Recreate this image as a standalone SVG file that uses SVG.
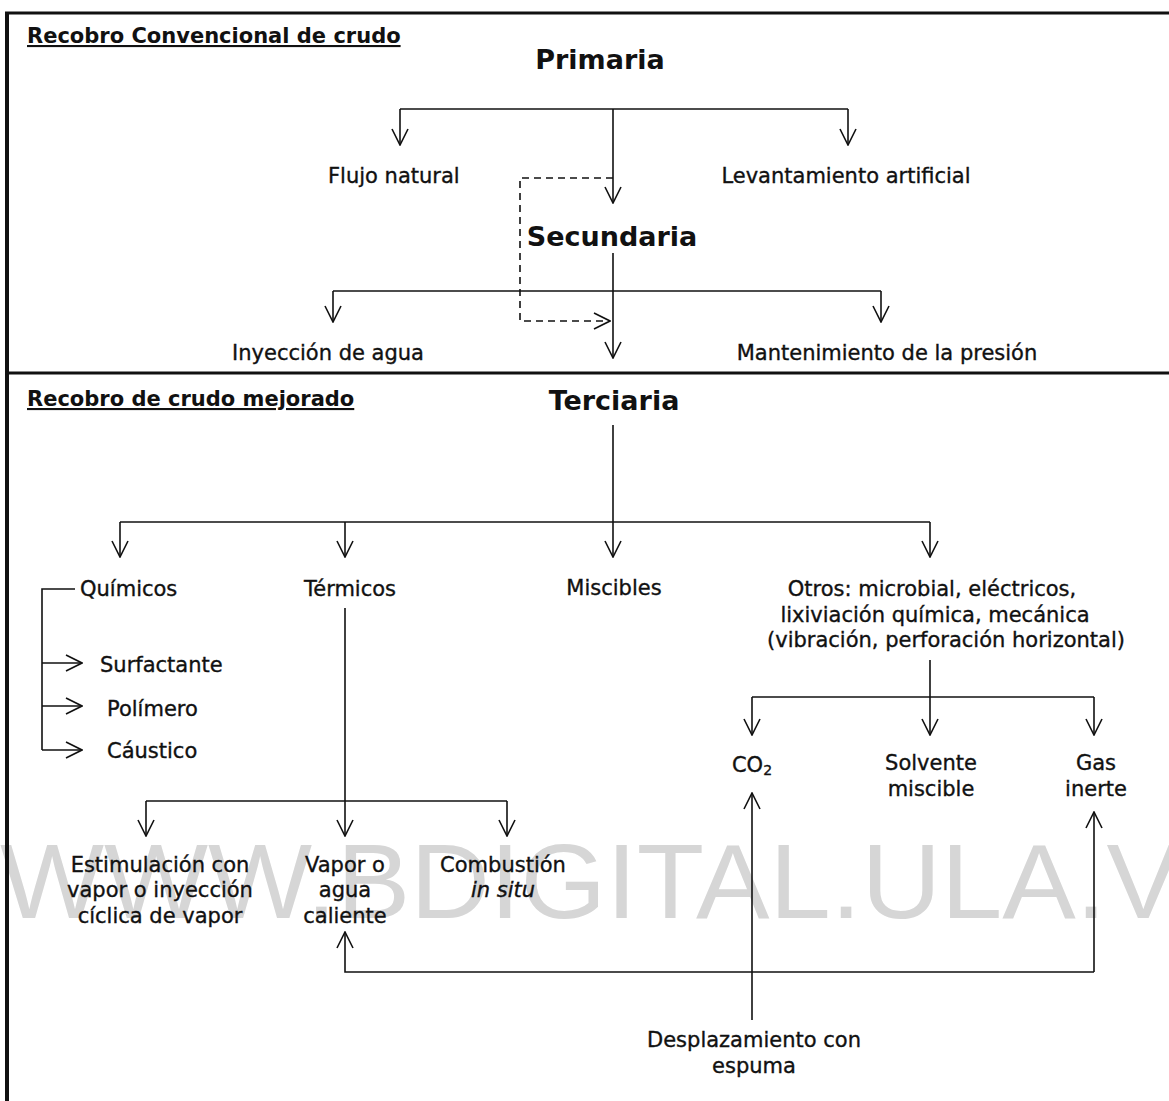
<svg xmlns="http://www.w3.org/2000/svg" width="1169" height="1101" viewBox="0 0 1169 1101">
<style>
text{font-family:"DejaVu Sans",Verdana,sans-serif;fill:#111}
.t{font-size:21px;stroke:#111;stroke-width:0.35}
.h{font-size:21px;font-weight:bold;text-decoration:underline}
.b{font-size:27px;font-weight:bold}
.c{text-anchor:middle}
.ln{fill:none;stroke:#111;stroke-width:1.6}
.ar{marker-end:url(#a)}
.ds{stroke-dasharray:7,5}
.wm{font-family:"Liberation Sans",Arial,sans-serif;font-size:106px;fill:#d6d6d6}
</style>
<defs>
<marker id="a" viewBox="0 0 20 20" refX="19" refY="10" markerWidth="20" markerHeight="20" markerUnits="userSpaceOnUse" orient="auto">
<path d="M3,2 L19,10 L3,18" fill="none" stroke="#111" stroke-width="1.6"/>
</marker>
</defs>
<rect width="1169" height="1101" fill="#fff"/>
<text class="wm" x="0" y="918" textLength="1180" lengthAdjust="spacingAndGlyphs">WWW.BDIGITAL.ULA.V</text>
<g id="frame">
<line x1="5" y1="13" x2="1169" y2="13" stroke="#111" stroke-width="3"/>
<line x1="7" y1="12" x2="7" y2="1101" stroke="#111" stroke-width="4"/>
<line x1="5" y1="373" x2="1169" y2="373" stroke="#111" stroke-width="3"/>
</g>
<g id="connectors">
<path class="ln" d="M400,109 H848"/>
<path class="ln ar" d="M400,109 V145"/>
<path class="ln ar" d="M848,109 V145"/>
<path class="ln ar" d="M613,109 V203"/>
<path class="ln ds ar" d="M613,178 H520 V321 H610"/>
<path class="ln ar" d="M613,253 V358"/>
<path class="ln" d="M333,291 H881"/>
<path class="ln ar" d="M333,291 V322"/>
<path class="ln ar" d="M881,291 V322"/>
<path class="ln ar" d="M613,425 V557"/>
<path class="ln" d="M120,522 H930"/>
<path class="ln ar" d="M120,522 V557"/>
<path class="ln ar" d="M345,522 V557"/>
<path class="ln ar" d="M930,522 V557"/>
<path class="ln" d="M75,589 H42 V750"/>
<path class="ln ar" d="M42,663 H82"/>
<path class="ln ar" d="M42,706 H82"/>
<path class="ln ar" d="M42,750 H82"/>
<path class="ln ar" d="M345,608 V836"/>
<path class="ln" d="M146,801 H507"/>
<path class="ln ar" d="M146,801 V836"/>
<path class="ln ar" d="M507,801 V836"/>
<path class="ln ar" d="M930,660 V735"/>
<path class="ln" d="M752,697 H1094"/>
<path class="ln ar" d="M752,697 V735"/>
<path class="ln ar" d="M1094,697 V735"/>
<path class="ln ar" d="M752,1020 V793"/>
<path class="ln ar" d="M1094,972 V812"/>
<path class="ln ar" d="M1094,972 H345 V932"/>
</g>
<g id="sec1"><text class="h" x="27" y="43">Recobro Convencional de crudo</text></g>
<g id="primaria"><text class="b c" x="600" y="69">Primaria</text></g>
<g id="flujo"><text class="t" x="328" y="183">Flujo natural</text></g>
<g id="levantamiento"><text class="t c" x="846" y="183">Levantamiento artificial</text></g>
<g id="secundaria"><text class="b c" x="612" y="246">Secundaria</text></g>
<g id="inyeccion"><text class="t c" x="328" y="360">Inyección de agua</text></g>
<g id="mantenimiento"><text class="t c" x="887" y="360">Mantenimiento de la presión</text></g>
<g id="sec2"><text class="h" x="27" y="406">Recobro de crudo mejorado</text></g>
<g id="terciaria"><text class="b c" x="614" y="410">Terciaria</text></g>
<g id="quimicos"><text class="t" x="80" y="596">Químicos</text></g>
<g id="surfactante"><text class="t" x="100" y="672">Surfactante</text></g>
<g id="polimero"><text class="t" x="107" y="716">Polímero</text></g>
<g id="caustico"><text class="t" x="107" y="758">Cáustico</text></g>
<g id="termicos"><text class="t c" x="350" y="596">Térmicos</text></g>
<g id="miscibles"><text class="t c" x="614" y="595">Miscibles</text></g>
<g id="otros"><text class="t c" x="932" y="596">Otros: microbial, eléctricos,</text><text class="t c" x="935" y="622">lixiviación química, mecánica</text><text class="t c" x="946" y="647">(vibración, perforación horizontal)</text></g>
<g id="co2"><text class="t c" x="752" y="772">CO<tspan font-size="14" dy="3">2</tspan></text></g>
<g id="solvente"><text class="t c" x="931" y="770">Solvente</text><text class="t c" x="931" y="796">miscible</text></g>
<g id="gas"><text class="t c" x="1096" y="770">Gas</text><text class="t c" x="1096" y="796">inerte</text></g>
<g id="estimulacion"><text class="t c" x="160" y="872">Estimulación con</text><text class="t c" x="160" y="897">vapor o inyección</text><text class="t c" x="160" y="923">cíclica de vapor</text></g>
<g id="vapor"><text class="t c" x="345" y="872">Vapor o</text><text class="t c" x="345" y="897">agua</text><text class="t c" x="345" y="923">caliente</text></g>
<g id="combustion"><text class="t c" x="503" y="872">Combustión</text><text class="t c" x="503" y="897" font-style="italic">in situ</text></g>
<g id="desplazamiento"><text class="t c" x="754" y="1047">Desplazamiento con</text><text class="t c" x="754" y="1073">espuma</text></g>
</svg>
